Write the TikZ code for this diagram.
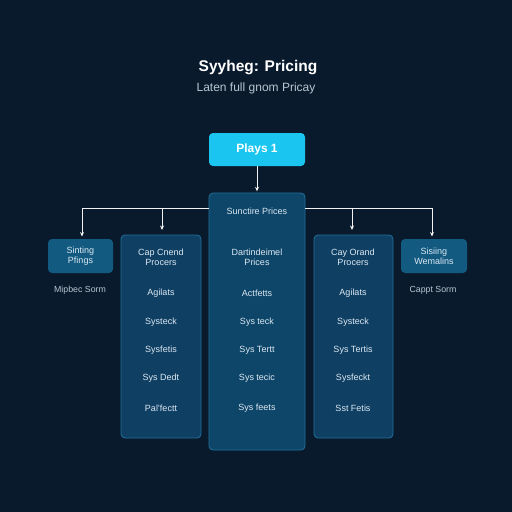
\documentclass[tikz,border=0pt]{standalone}
\usepackage{fontspec}
\setmainfont{Liberation Sans}
\usetikzlibrary{arrows.meta,calc}
\definecolor{bg}{HTML}{0A1A2D}
\definecolor{cyanbox}{HTML}{1AC6F0}
\definecolor{colfill}{HTML}{0F3F63}
\definecolor{cenfill}{HTML}{0E4669}
\definecolor{smfill}{HTML}{125A80}
\definecolor{edge}{HTML}{22709A}
\definecolor{txt}{HTML}{DCE8F2}
\definecolor{subtxt}{HTML}{B8C6D2}
\tikzset{
  colbox/.style={draw=edge, line width=0.8pt, fill=colfill, rounded corners=4pt},
  cenbox/.style={draw=edge, line width=0.8pt, fill=cenfill, rounded corners=4pt},
  smbox/.style={fill=smfill, rounded corners=4pt, text=txt, font=\fontsize{9}{10}\selectfont, align=center},
  lbl/.style={text=txt, font=\fontsize{9}{10.5}\selectfont, align=center},
  captxt/.style={text=subtxt, font=\fontsize{8.8}{10}\selectfont},
  arr/.style={draw=white!90!gray, line width=0.9pt, -{Stealth[length=4.5pt,width=4pt]}},
  bus/.style={draw=white!90!gray, line width=0.9pt}
}
\begin{document}
\begin{tikzpicture}[x=1pt,y=-1pt]
\fill[bg] (0,0) rectangle (512,512);
\useasboundingbox (0,0) rectangle (512,512);
% title
\node[text=white, font=\bfseries\fontsize{15.5}{18}\selectfont] (title) at (258,68) {Syyheg: Pricing};
\node[text=subtxt, font=\fontsize{12}{14}\selectfont] (subtitle) at (256,88) {Laten full gnom Pricay};
% top box
\node[fill=cyanbox, rounded corners=4pt, minimum width=96pt, minimum height=33pt, text=white, font=\bfseries\fontsize{12}{14}\selectfont] (top) at (257,149.5) {Plays 1};
% center box
\path[cenbox] (209,193) rectangle (305,450);
\node (cen) at (257,321.5) [minimum width=96pt, minimum height=257pt, inner sep=0pt] {};
% column boxes
\path[colbox] (121,235) rectangle (201,438);
\node (lcol) at (161,336.5) [minimum width=80pt, minimum height=203pt, inner sep=0pt] {};
\path[colbox] (314,235) rectangle (393,438);
\node (rcol) at (353.5,336.5) [minimum width=79pt, minimum height=203pt, inner sep=0pt] {};
% small boxes
\node[smbox, minimum width=65pt, minimum height=34pt] (lsm) at (80.5,256) {Sinting\\Pfings};
\node[smbox, minimum width=66pt, minimum height=34pt] (rsm) at (434,256) {Sisiing\\Wemalins};
\node[captxt] (lcap) at (80,290) {Mipbec Sorm};
\node[captxt] (rcap) at (433,290) {Cappt Sorm};
% connectors
\draw[arr] (top.south) -- ($(cen.north)+(0,-1.5)$);
\coordinate (busl) at (209,208);
\coordinate (busr) at (305,208);
\coordinate (bl) at (82,208);
\coordinate (br) at (432,208);
\draw[bus] (busl) -- (bl);
\draw[bus] (busr) -- (br);
\draw[arr] (bl) -- (82,236.5);
\draw[arr] (162,208) -- (162,230);
\draw[arr] (352,208) -- (352,230);
\draw[arr] (br) -- (432,236.5);
% center texts
\node[lbl] (c0) at (257,211) {Sunctire Prices};
\node[lbl] (c1) at (257,257.5) {Dartindeimel\\Prices};
\node[lbl] (c2) at (257,293) {Actfetts};
\node[lbl] (c3) at (257,322) {Sys teck};
\node[lbl] (c4) at (257,350) {Sys Tertt};
\node[lbl] (c5) at (257,378) {Sys tecic};
\node[lbl] (c6) at (257,408) {Sys feets};
% left column texts
\node[lbl] (l1) at (161,257.5) {Cap Cnend\\Procers};
\node[lbl] (l2) at (161,293) {Agilats};
\node[lbl] (l3) at (161,322) {Systeck};
\node[lbl] (l4) at (161,350) {Sysfetis};
\node[lbl] (l5) at (161,378) {Sys Dedt};
\node[lbl] (l6) at (161,408) {Pal'fectt};
% right column texts
\node[lbl] (r1) at (353,257.5) {Cay Orand\\Procers};
\node[lbl] (r2) at (353,293) {Agilats};
\node[lbl] (r3) at (353,322) {Systeck};
\node[lbl] (r4) at (353,350) {Sys Tertis};
\node[lbl] (r5) at (353,378) {Sysfeckt};
\node[lbl] (r6) at (353,408) {Sst Fetis};
\end{tikzpicture}
\end{document}
